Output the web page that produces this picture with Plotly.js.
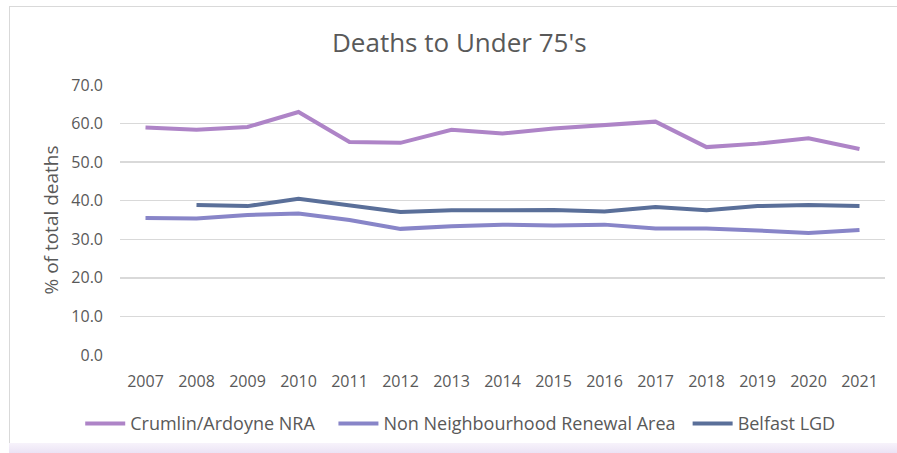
<!DOCTYPE html>
<html>
<head>
<meta charset="utf-8">
<script src="https://cdn.plot.ly/plotly-3.0.1.min.js"></script>
<style>
html,body{margin:0;padding:0;background:#fff;}
#wrap{position:relative;width:897px;height:453px;overflow:hidden;}
#chart{position:absolute;left:0;top:0;width:897px;height:453px;}
#frame{position:absolute;left:9px;top:6px;width:900px;height:437px;border-top:1.5px solid #d9d9d9;border-left:1.5px solid #d9d9d9;pointer-events:none;}
#band{position:absolute;left:9px;top:443px;width:900px;height:10px;background:linear-gradient(#f7f3fb,#ebe3f5);pointer-events:none;}
</style>
</head>
<body>
<div id="wrap">
<div id="chart"></div>
<div id="frame"></div>
<div id="band"></div>
</div>
<script>
const years = ['2007','2008','2009','2010','2011','2012','2013','2014','2015','2016','2017','2018','2019','2020','2021'];
const crumlin = [59.0, 58.4, 59.1, 63.0, 55.2, 55.0, 58.4, 57.4, 58.7, 59.5, 60.5, 53.9, 54.8, 56.2, 53.4];
const nonNRA = [35.5, 35.4, 36.3, 36.7, 35.0, 32.7, 33.4, 33.8, 33.6, 33.8, 32.8, 32.8, 32.3, 31.6, 32.4];
const belfast = [null, 38.9, 38.6, 40.5, 38.9, 37.1, 37.5, 37.6, 37.6, 37.2, 38.4, 37.5, 38.6, 38.9, 38.6];
const yTicks = [0, 10, 20, 30, 40, 50, 60, 70];

const font = 'Open Sans, sans-serif';
const traces = [
  {x: years, y: crumlin, name: 'Crumlin/Ardoyne NRA', type: 'scatter', mode: 'lines',
   line: {color: '#ae84c7', width: 4}, legend: 'legend'},
  {x: years, y: nonNRA, name: 'Non Neighbourhood Renewal Area', type: 'scatter', mode: 'lines',
   line: {color: '#8885c8', width: 4}, legend: 'legend2'},
  {x: years, y: belfast, name: 'Belfast LGD', type: 'scatter', mode: 'lines',
   line: {color: '#5a6f99', width: 4}, legend: 'legend3'}
];
const legFont = {size: 18, color: '#595959', family: font};
function leg(x) {
  return {orientation: 'h', x: x, xanchor: 'left', y: -0.25, yanchor: 'middle',
          font: legFont, itemwidth: 40, bgcolor: 'rgba(0,0,0,0)', borderwidth: 0};
}
const layout = {
  width: 897, height: 453,
  margin: {l: 120, r: 12, t: 85, b: 97},
  paper_bgcolor: 'rgba(0,0,0,0)', plot_bgcolor: 'rgba(0,0,0,0)',
  font: {family: font, color: '#595959', size: 15},
  title: {text: "Deaths to Under 75's", x: 0.512, xanchor: 'center', y: 0.905, yanchor: 'middle',
          font: {family: font, size: 26, color: '#595959'}},
  xaxis: {type: 'category', range: [-0.5, years.length - 0.5], showgrid: false, zeroline: false,
          showline: false, ticks: '', ticklabelstandoff: 15, tickfont: {size: 16, color: '#595959'}},
  yaxis: {range: [0, 70], tickvals: yTicks, ticktext: yTicks.map(v => v.toFixed(1)),
          showgrid: true, gridcolor: '#d9d9d9', gridwidth: 1.3, zeroline: false, showline: false,
          ticks: '', ticklabelstandoff: 16, tickfont: {size: 16, color: '#595959'},
          title: {text: '% of total deaths', standoff: 7, font: {size: 19, color: '#595959'}}},
  legend: leg(-0.052),
  legend2: leg(0.279),
  legend3: leg(0.742),
  showlegend: true
};
Plotly.newPlot('chart', traces, layout, {displayModeBar: false, staticPlot: true});
</script>
</body>
</html>
